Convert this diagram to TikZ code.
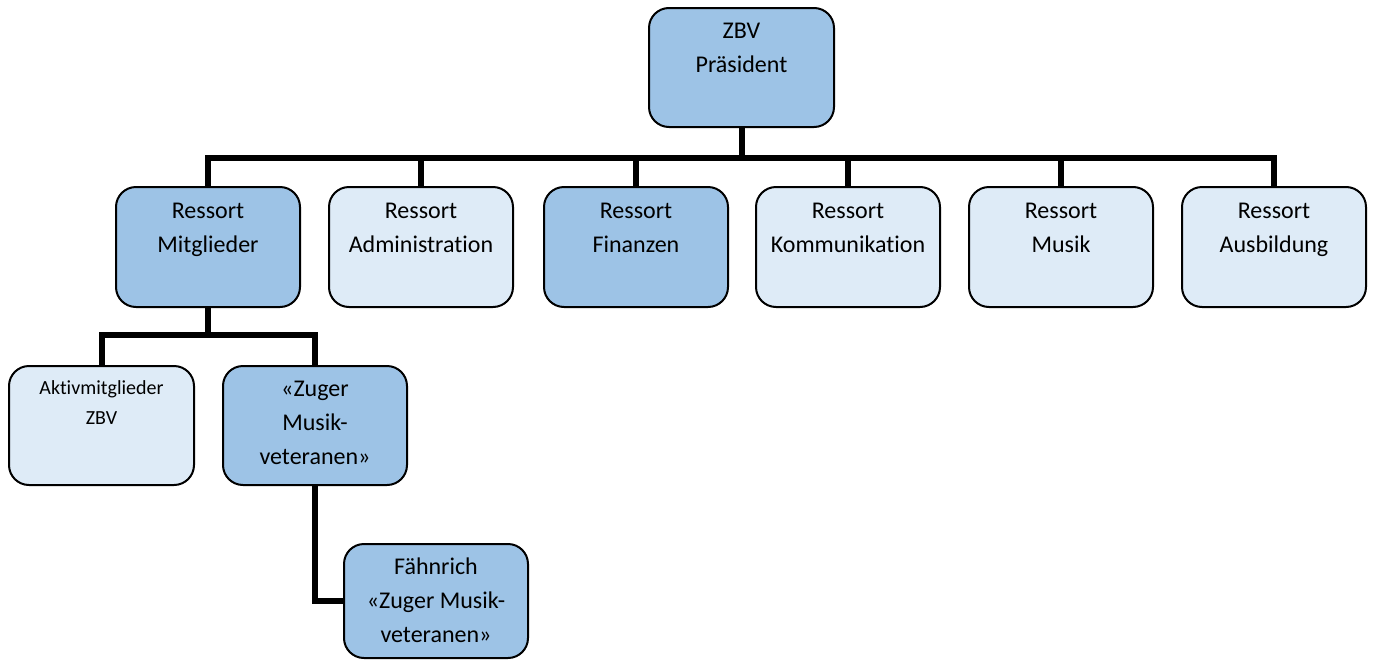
\documentclass[tikz,border=0pt]{standalone}
\usepackage{fontspec}
\setmainfont{Carlito}[Ligatures={NoCommon,NoContextual}, RawFeature={-liga;-clig;-calt}]
\definecolor{dkblue}{HTML}{9DC3E6}
\definecolor{ltblue}{HTML}{DEEBF7}
\newcommand\btxt[4]{\parbox[t][#1pt][t]{#2pt}{\centering\rule{0pt}{#3pt}#4}}
\begin{document}
\begin{tikzpicture}[x=1pt,y=-1pt,
  boxbase/.style={draw=black, line width=2pt, rounded corners=20pt, inner sep=0pt, anchor=north west,
    font=\fontsize{24}{34}\selectfont},
  dk/.style={boxbase, fill=dkblue},
  lt/.style={boxbase, fill=ltblue},
  conn/.style={line width=6pt, line join=miter}]
\useasboundingbox (0,0) rectangle (1374,659);
% top
\node[dk] (pres) at (648,7) {\btxt{119}{185}{30}{ZBV\\Präsident}};
% ressorts
\node[dk] (r1) at (115,186) {\btxt{120}{184}{31}{Ressort\\Mitglieder}};
\node[lt] (r2) at (328,186) {\btxt{120}{184}{31}{Ressort\\Administration}};
\node[dk] (r3) at (543,186) {\btxt{120}{184}{31}{Ressort\\Finanzen}};
\node[lt] (r4) at (755,186) {\btxt{120}{184}{31}{Ressort\\Kommunikation}};
\node[lt] (r5) at (968,186) {\btxt{120}{184}{31}{Ressort\\Musik}};
\node[lt] (r6) at (1181,186) {\btxt{120}{184}{31}{Ressort\\Ausbildung}};
% lower
\node[lt, font=\fontsize{20}{30}\selectfont] (akt) at (8,365) {\btxt{119}{185}{28}{Aktivmitglieder\\ZBV}};
\node[dk] (zug) at (222,365) {\btxt{119}{184}{30}{«Zuger\\Musik-\\veteranen»}};
\node[dk] (fae) at (343,543) {\btxt{114}{184}{30}{Fähnrich\\«Zuger Musik-\\veteranen»}};
% connectors
\coordinate (bus) at (0,158);
\coordinate (sub) at (0,335);
\draw[conn] (pres.south) -- (pres.south |- bus);
\draw[conn] (r1.north) -- (r1.north |- bus) -- (r6.north |- bus) -- (r6.north);
\draw[conn] (r2.north) -- (r2.north |- bus);
\draw[conn] (r3.north) -- (r3.north |- bus);
\draw[conn] (r4.north) -- (r4.north |- bus);
\draw[conn] (r5.north) -- (r5.north |- bus);
\draw[conn] (r1.south) -- (r1.south |- sub);
\draw[conn] (akt.north) -- (akt.north |- sub) -- (zug.north |- sub) -- (zug.north);
\draw[conn] (zug.south) |- (fae.west);
\end{tikzpicture}
\end{document}
